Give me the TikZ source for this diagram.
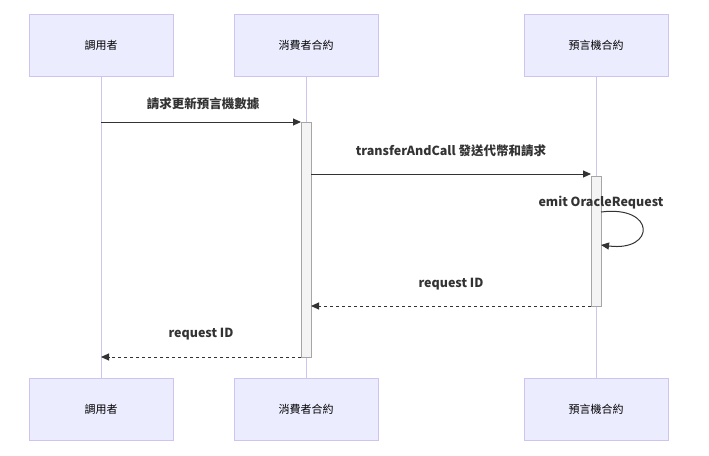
\documentclass[tikz,border=0pt]{standalone}
\usepackage{fontspec}
\setmainfont{Noto Sans CJK TC}
\usetikzlibrary{arrows.meta}
\definecolor{actfill}{HTML}{ECECFF}
\definecolor{actline}{HTML}{CFC3F2}
\definecolor{barfill}{HTML}{F4F4F4}
\definecolor{ln}{HTML}{333333}
\tikzset{
 actor/.style={draw=actline,fill=actfill,minimum width=144pt,minimum height=62pt,inner sep=0,font=\fontsize{11}{13}\selectfont},
 life/.style={draw=actline,line width=1pt},
 bar/.style={draw=gray!70,fill=barfill},
 msg/.style={draw=ln,line width=1pt,-{Triangle[length=8pt,width=7pt]}},
 ret/.style={msg,dash pattern=on 3pt off 3pt},
 lbl/.style={font=\fontsize{12.5}{15}\selectfont\bfseries,text=ln}
}
\begin{document}
\begin{tikzpicture}[x=1pt,y=-1pt]
\useasboundingbox (0,0) rectangle (709,455);
\fill[white] (0,0) rectangle (709,455);
\draw[life] (101,76) -- (101,378);
\draw[life] (306,76) -- (306,378);
\draw[life] (596,76) -- (596,378);
\node[actor] (a1) at (101,45) {調用者};
\node[actor] (a2) at (306,45) {消費者合約};
\node[actor] (a3) at (596,45) {預言機合約};
\node[actor] (b1) at (101,409) {調用者};
\node[actor] (b2) at (306,409) {消費者合約};
\node[actor] (b3) at (596,409) {預言機合約};
\draw[bar] (301,122) rectangle (311,357);
\draw[bar] (591,176) rectangle (601,306);
\coordinate (m1s) at (101,122); \coordinate (m1e) at (301,122);
\coordinate (m2s) at (311,174); \coordinate (m2e) at (591,174);
\coordinate (m4s) at (591,306); \coordinate (m4e) at (311,306);
\coordinate (m5s) at (301,357); \coordinate (m5e) at (101,357);
\coordinate (ls) at (601,212); \coordinate (le) at (601,245);
\draw[msg] (m1s) -- (m1e);
\node[lbl] (t1) at (203,104) {請求更新預言機數據};
\draw[msg] (m2s) -- (m2e);
\node[lbl] (t2) at (451,151) {transferAndCall 發送代幣和請求};
\draw[msg] (ls) .. controls (656,205) and (656,252) .. (le);
\node[lbl] (t3) at (601,203) {emit OracleRequest};
\draw[ret] (m4s) -- (m4e);
\node[lbl] (t4) at (451,284) {request ID};
\draw[ret] (m5s) -- (m5e);
\node[lbl] (t5) at (201,334) {request ID};
\end{tikzpicture}
\end{document}
